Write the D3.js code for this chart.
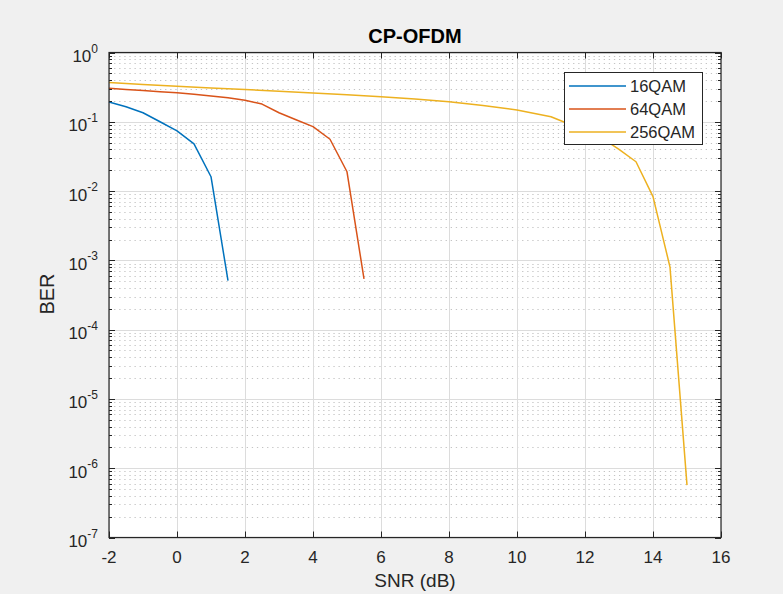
<!DOCTYPE html>
<html>
<head>
<meta charset="utf-8">
<script src="https://cdn.jsdelivr.net/npm/d3@7"></script>
<style>
  html, body { margin: 0; padding: 0; background: #f0f0f0; }
  svg { display: block; font-family: "Liberation Sans", Arial, Helvetica, sans-serif; }
</style>
</head>
<body>
<svg id="chart" width="783" height="594"></svg>
<script>
// ---------- data ----------
const snr16 = [-2, -1.5, -1, -0.5, 0, 0.5, 1, 1.5];
const ber16 = [0.193, 0.165, 0.135, 0.1, 0.074, 0.048, 0.0161, 0.00051];

const snr64 = [-2, -1.5, -1, -0.5, 0, 0.5, 1, 1.5, 2, 2.5, 3, 3.5, 4, 4.5, 5, 5.5];
const ber64 = [0.305, 0.292, 0.283, 0.272, 0.262, 0.249, 0.236, 0.222, 0.205, 0.18, 0.135, 0.107, 0.085, 0.056, 0.019, 0.00054];

const snr256 = [-2, -1, 0, 1, 2, 3, 4, 5, 6, 7, 8, 9, 10, 11, 12, 12.5, 13, 13.5, 14, 14.5, 15];
const ber256 = [0.37, 0.345, 0.325, 0.308, 0.292, 0.277, 0.26, 0.246, 0.23, 0.213, 0.195, 0.172, 0.148, 0.118, 0.075, 0.058, 0.04, 0.0265, 0.0083, 0.0008, 0.00000057];

const seriesNames = ["16QAM", "64QAM", "256QAM"];
const seriesColors = ["#0072BD", "#D95319", "#EDB120"];
const xTicks = [-2, 0, 2, 4, 6, 8, 10, 12, 14, 16];
const yExponents = [0, -1, -2, -3, -4, -5, -6, -7];
const titleText = "CP-OFDM";
const xLabel = "SNR (dB)";
const yLabel = "BER";

// ---------- layout ----------
const svg = d3.select("#chart");
const L = 109, R = 721, T = 52.5, B = 537.5;
const x = d3.scaleLinear().domain([-2, 16]).range([L, R]);
const y = d3.scaleLog().domain([1e-7, 1]).range([B, T]);
const axisColor = "#262626";

svg.append("rect").attr("width", 783).attr("height", 594).attr("fill", "#f0f0f0");
svg.append("rect").attr("x", L).attr("y", T).attr("width", R - L).attr("height", B - T).attr("fill", "#ffffff");

// minor y grid (dotted)
const minorVals = [];
yExponents.slice(1).forEach(e => {
  for (let k = 2; k <= 9; k++) minorVals.push(k * Math.pow(10, e));
});
const grid = svg.append("g");
grid.selectAll("line.minor").data(minorVals).enter().append("line")
  .attr("x1", L).attr("x2", R)
  .attr("y1", d => Math.round(y(d)) + 0.5).attr("y2", d => Math.round(y(d)) + 0.5)
  .attr("stroke", "#c4c4c4").attr("stroke-width", 1).attr("stroke-dasharray", "1.3,3.8");

// major grids
const majorY = yExponents.map(e => Math.pow(10, e));
grid.selectAll("line.majy").data(majorY).enter().append("line")
  .attr("x1", L).attr("x2", R)
  .attr("y1", d => Math.round(y(d)) + 0.5).attr("y2", d => Math.round(y(d)) + 0.5)
  .attr("stroke", "#dcdcdc").attr("stroke-width", 1);
grid.selectAll("line.majx").data(xTicks).enter().append("line")
  .attr("y1", T).attr("y2", B)
  .attr("x1", d => Math.round(x(d)) + 0.5).attr("x2", d => Math.round(x(d)) + 0.5)
  .attr("stroke", "#dcdcdc").attr("stroke-width", 1);

// ---------- lines ----------
const data = [
  snr16.map((s, i) => [s, ber16[i]]),
  snr64.map((s, i) => [s, ber64[i]]),
  snr256.map((s, i) => [s, ber256[i]])
];
const line = d3.line().x(d => x(d[0])).y(d => y(d[1]));
svg.append("g").selectAll("path").data(data).enter().append("path")
  .attr("d", line)
  .attr("fill", "none")
  .attr("stroke", (d, i) => seriesColors[i])
  .attr("stroke-width", 1.5)
  .attr("stroke-linejoin", "round");

// ---------- axes frame and ticks ----------
const ax = svg.append("g").attr("stroke", axisColor).attr("stroke-width", 1);
const maj = 6, mnr = 3;
xTicks.forEach(v => {
  const px = Math.round(x(v)) + 0.5;
  ax.append("line").attr("x1", px).attr("x2", px).attr("y1", B).attr("y2", B - maj);
  ax.append("line").attr("x1", px).attr("x2", px).attr("y1", T).attr("y2", T + maj);
});
majorY.forEach(v => {
  const py = Math.round(y(v)) + 0.5;
  ax.append("line").attr("x1", L).attr("x2", L + maj).attr("y1", py).attr("y2", py);
  ax.append("line").attr("x1", R).attr("x2", R - maj).attr("y1", py).attr("y2", py);
});
minorVals.forEach(v => {
  const py = Math.round(y(v)) + 0.5;
  ax.append("line").attr("x1", L).attr("x2", L + mnr).attr("y1", py).attr("y2", py);
  ax.append("line").attr("x1", R).attr("x2", R - mnr).attr("y1", py).attr("y2", py);
});
svg.append("rect").attr("x", L).attr("y", T).attr("width", R - L).attr("height", B - T)
  .attr("fill", "none").attr("stroke", axisColor).attr("stroke-width", 1.2);

// tick labels
const lab = svg.append("g").attr("fill", axisColor);
lab.selectAll("text.xt").data(xTicks).enter().append("text")
  .attr("x", d => x(d)).attr("y", 563)
  .attr("text-anchor", "middle").attr("font-size", 17)
  .text(d => d);
yExponents.forEach(e => {
  const py = y(Math.pow(10, e));
  const t = lab.append("text").attr("x", 98).attr("y", py + 9.5)
    .attr("text-anchor", "end").attr("font-size", 17);
  t.append("tspan").text("10");
  t.append("tspan").attr("dy", -9.5).attr("font-size", 12).text(e);
});

// axis labels and title
svg.append("text").attr("x", (L + R) / 2).attr("y", 587).attr("text-anchor", "middle")
  .attr("font-size", 19).attr("fill", axisColor).text(xLabel);
svg.append("text").attr("transform", "translate(54,294) rotate(-90)").attr("text-anchor", "middle")
  .attr("font-size", 20).attr("fill", axisColor).text(yLabel);
svg.append("text").attr("x", (L + R) / 2).attr("y", 43).attr("text-anchor", "middle")
  .attr("font-size", 20).attr("font-weight", "bold").attr("fill", "#000").text(titleText);

// ---------- legend ----------
const lg = svg.append("g");
lg.append("rect").attr("x", 564.5).attr("y", 72.5).attr("width", 138).attr("height", 72)
  .attr("fill", "#fff").attr("stroke", axisColor).attr("stroke-width", 1);
const rowY = [86, 109, 132];
seriesNames.forEach((n, i) => {
  lg.append("line").attr("x1", 569).attr("x2", 626).attr("y1", rowY[i]).attr("y2", rowY[i])
    .attr("stroke", seriesColors[i]).attr("stroke-width", 1.5);
  lg.append("text").attr("x", 630).attr("y", rowY[i] + 6).attr("font-size", 16.5)
    .attr("fill", axisColor).text(n);
});
</script>
</body>
</html>
